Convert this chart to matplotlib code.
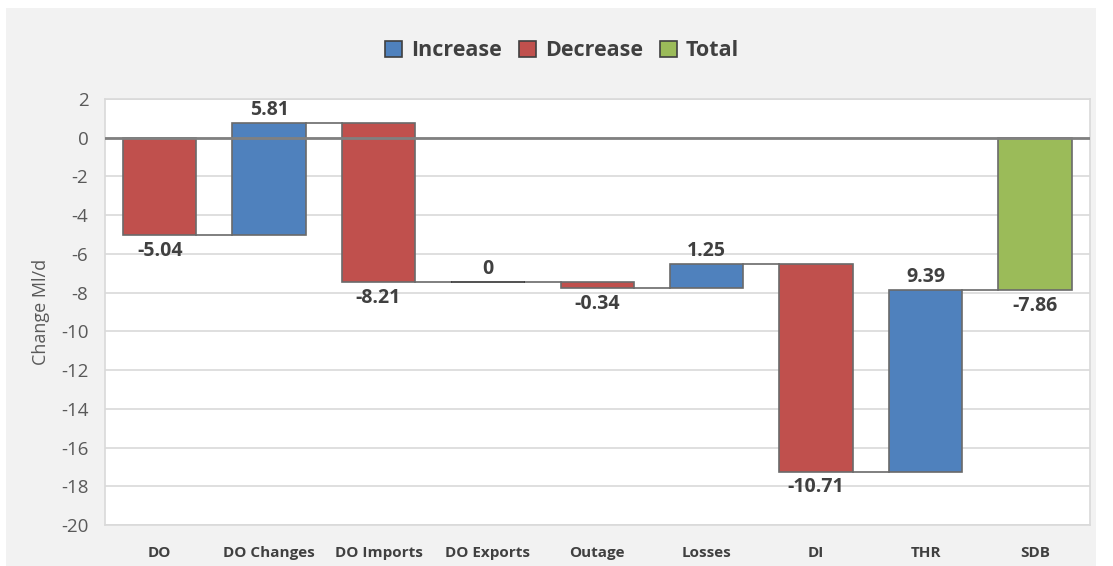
import matplotlib.pyplot as plt
from matplotlib.patches import Rectangle, Patch
import numpy as np

plt.rcParams['font.family'] = ['Open Sans', 'DejaVu Sans']
plt.rcParams['axes.unicode_minus'] = False

# waterfall steps (Ml/d), last one is the total
categories = ['DO', 'DO Changes', 'DO Imports', 'DO Exports', 'Outage',
              'Losses', 'DI', 'THR', 'SDB']
changes = [-5.04, 5.81, -8.21, 0, -0.34, 1.25, -10.71, 9.39]
total = -7.86

c_up = '#4f81bd'
c_down = '#c0504d'
c_total = '#9bbb59'
edge = '#6a6a6a'
txt = '#404040'

fig = plt.figure(figsize=(11.13, 5.66), dpi=100, facecolor='white')
fig.patches.append(Rectangle((0.005, 0), 0.98, 0.986, transform=fig.transFigure,
                             facecolor='#f2f2f2', edgecolor='none', zorder=-10))
ax = fig.add_axes([0.0943, 0.0724, 0.8847, 0.7526])
ax.set_facecolor('white')

x = np.arange(len(categories))
width = 0.67
lab = dict(fontsize=14, fontweight='bold', color=txt, zorder=5, ha='center')

# bottoms and tops of the floating bars
starts = np.concatenate([[0], np.cumsum(changes)[:-1]])
ends = np.cumsum(changes)

for i, (s, d) in enumerate(zip(starts, changes)):
    col = c_up if d > 0 else c_down
    ax.bar(x[i], d, bottom=s, width=width, color=col, edgecolor=edge if d != 0 else '#333333',
           linewidth=1.2, zorder=3)
    if d >= 0:
        ax.text(x[i], s + d + 0.15, f'{d:g}', va='bottom', **lab)
    else:
        ax.text(x[i], s + d - 0.3, f'{d:g}', va='top', **lab)

ax.bar(x[-1], total, width=width, color=c_total, edgecolor=edge, linewidth=1.2, zorder=3)
ax.text(x[-1], total - 0.3, f'{total:g}', va='top', **lab)

# connector lines between neighbouring bars
for i in range(len(categories) - 1):
    ax.plot([x[i] + width / 2, x[i + 1] - width / 2], [ends[i], ends[i]],
            color=edge, linewidth=1.2, zorder=2)

ax.axhline(0, color='#808080', linewidth=2, zorder=4)

ax.set_xlim(-0.5, len(categories) - 0.5)
ax.set_ylim(-20, 2)
ax.set_yticks(np.arange(-20, 3, 2))
ax.yaxis.grid(True, color='#d9d9d9', linewidth=1.2, zorder=0)
ax.set_axisbelow(True)
for sp in ax.spines.values():
    sp.set_color('#d9d9d9')
    sp.set_linewidth(1.2)
ax.tick_params(axis='y', length=0, labelsize=13.5, labelcolor='#595959', pad=12)
ax.tick_params(axis='x', length=0, labelsize=11, labelcolor=txt, pad=15)
ax.set_xticks(x)
ax.set_xticklabels(categories, fontweight='bold')
ax.set_ylabel('Change Ml/d', fontsize=13, color='#595959', labelpad=8)

handles = [Patch(facecolor=c, edgecolor='#404040', linewidth=1.2) for c in (c_up, c_down, c_total)]
fig.legend(handles, ['Increase', 'Decrease', 'Total'], loc='center', bbox_to_anchor=(0.505, 0.91),
           ncol=3, frameon=False, prop={'size': 15.5, 'weight': 'bold'}, labelcolor=txt,
           handlelength=0.8, handleheight=0.8, handletextpad=0.4, columnspacing=0.8)

fig.savefig('out.png', dpi=100, facecolor=fig.get_facecolor())
